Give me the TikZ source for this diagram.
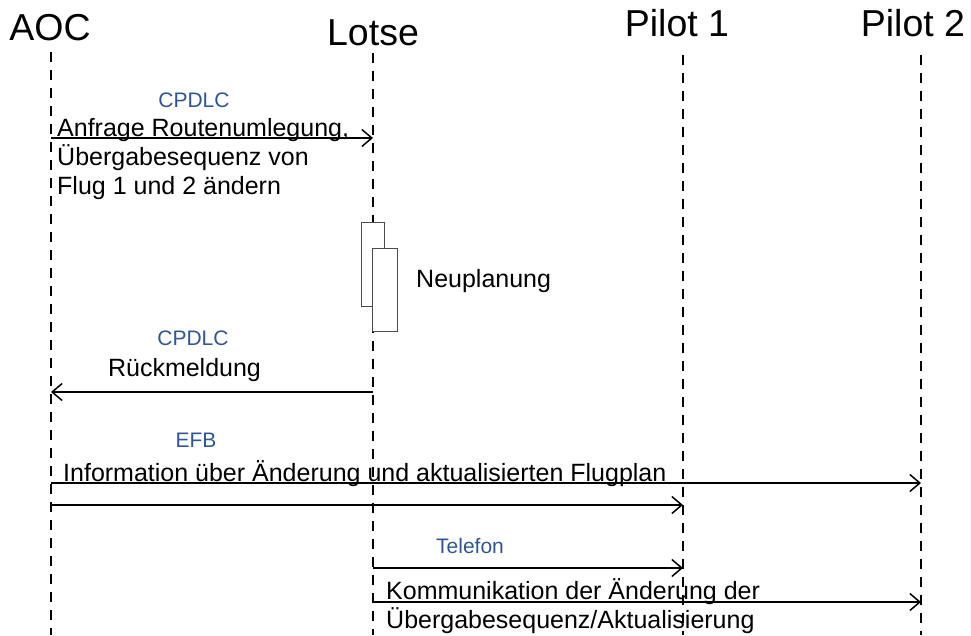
\documentclass[tikz,border=0pt]{standalone}
\usepackage{fontspec}
\setmainfont{Liberation Sans}
\usetikzlibrary{arrows.meta}
\definecolor{lblue}{RGB}{47,85,151}
\begin{document}
\begin{tikzpicture}[x=1pt,y=-1pt,
  life/.style={line width=2pt, dash pattern=on 10pt off 8pt},
  msg/.style={line width=1.5pt, -{Straight Barb[length=10pt,width=17pt,line width=1.5pt]}},
  head/.style={anchor=base, font=\fontsize{37.5}{42}\selectfont, inner sep=0pt},
  chan/.style={anchor=base, font=\fontsize{21}{25}\selectfont, text=lblue, inner sep=0pt},
  txt/.style={anchor=base west, font=\fontsize{25}{28.7}\selectfont, inner sep=0pt, align=left},
  act/.style={draw=black!70, fill=white, line width=1pt}]
\useasboundingbox (0,0) rectangle (971,635);
% headers
\node[head] (hAOC) at (50,40) {AOC};
\node[head] (hLotse) at (373,45) {Lotse};
\node[head] (hP1) at (677,36) {Pilot 1};
\node[head] (hP2) at (913,36) {Pilot 2};
% lifelines
\coordinate (aT) at (51,52);   \coordinate (aB) at (51,635);
\coordinate (lT) at (373,53);  \coordinate (lB) at (373,635);
\coordinate (p1T) at (683,55); \coordinate (p1B) at (683,635);
\coordinate (p2T) at (921,55); \coordinate (p2B) at (921,635);
\draw[life] (aT) -- (aB);
\draw[life] (lT) -- (lB);
\draw[life] (p1T) -- (p1B);
\draw[life] (p2T) -- (p2B);
% message 1
\coordinate (m1s) at (51,138); \coordinate (m1e) at (373,138);
\draw[msg] (m1s) -- (m1e);
\node[chan] (c1) at (194,107) {CPDLC};
\node[txt] (t1) at (57,194) {Anfrage Routenumlegung,\\Übergabesequenz von\\Flug 1 und 2 ändern};
% activation
\node[act, minimum width=23pt, minimum height=84pt, inner sep=0pt] (act1) at (372.5,264) {};
\node[act, minimum width=25pt, minimum height=83pt, inner sep=0pt] (act2) at (384.5,289.5) {};
\node[txt] (neu) at (416,287) {Neuplanung};
% message 2
\coordinate (m2s) at (373,392); \coordinate (m2e) at (51,392);
\draw[msg] (m2s) -- (m2e);
\node[chan] (c2) at (193,345) {CPDLC};
\node[anchor=base, font=\fontsize{25}{28}\selectfont, inner sep=0pt] (t2) at (184.5,376) {Rückmeldung};
% EFB messages
\node[chan] (c3) at (196,447) {EFB};
\node[txt] (t3) at (63,481) {Information über Änderung und aktualisierten Flugplan};
\coordinate (m3s) at (51,483); \coordinate (m3e) at (921,483);
\draw[msg] (m3s) -- (m3e);
\coordinate (m4s) at (51,505); \coordinate (m4e) at (683,505);
\draw[msg] (m4s) -- (m4e);
% Telefon messages
\node[chan] (c4) at (470,553) {Telefon};
\coordinate (m5s) at (373,568); \coordinate (m5e) at (683,568);
\draw[msg] (m5s) -- (m5e);
\coordinate (m6s) at (373,602); \coordinate (m6e) at (921,602);
\draw[msg] (m6s) -- (m6e);
\node[txt] (t4) at (386,628) {Kommunikation der Änderung der\\Übergabesequenz/Aktualisierung};
\end{tikzpicture}
\end{document}
